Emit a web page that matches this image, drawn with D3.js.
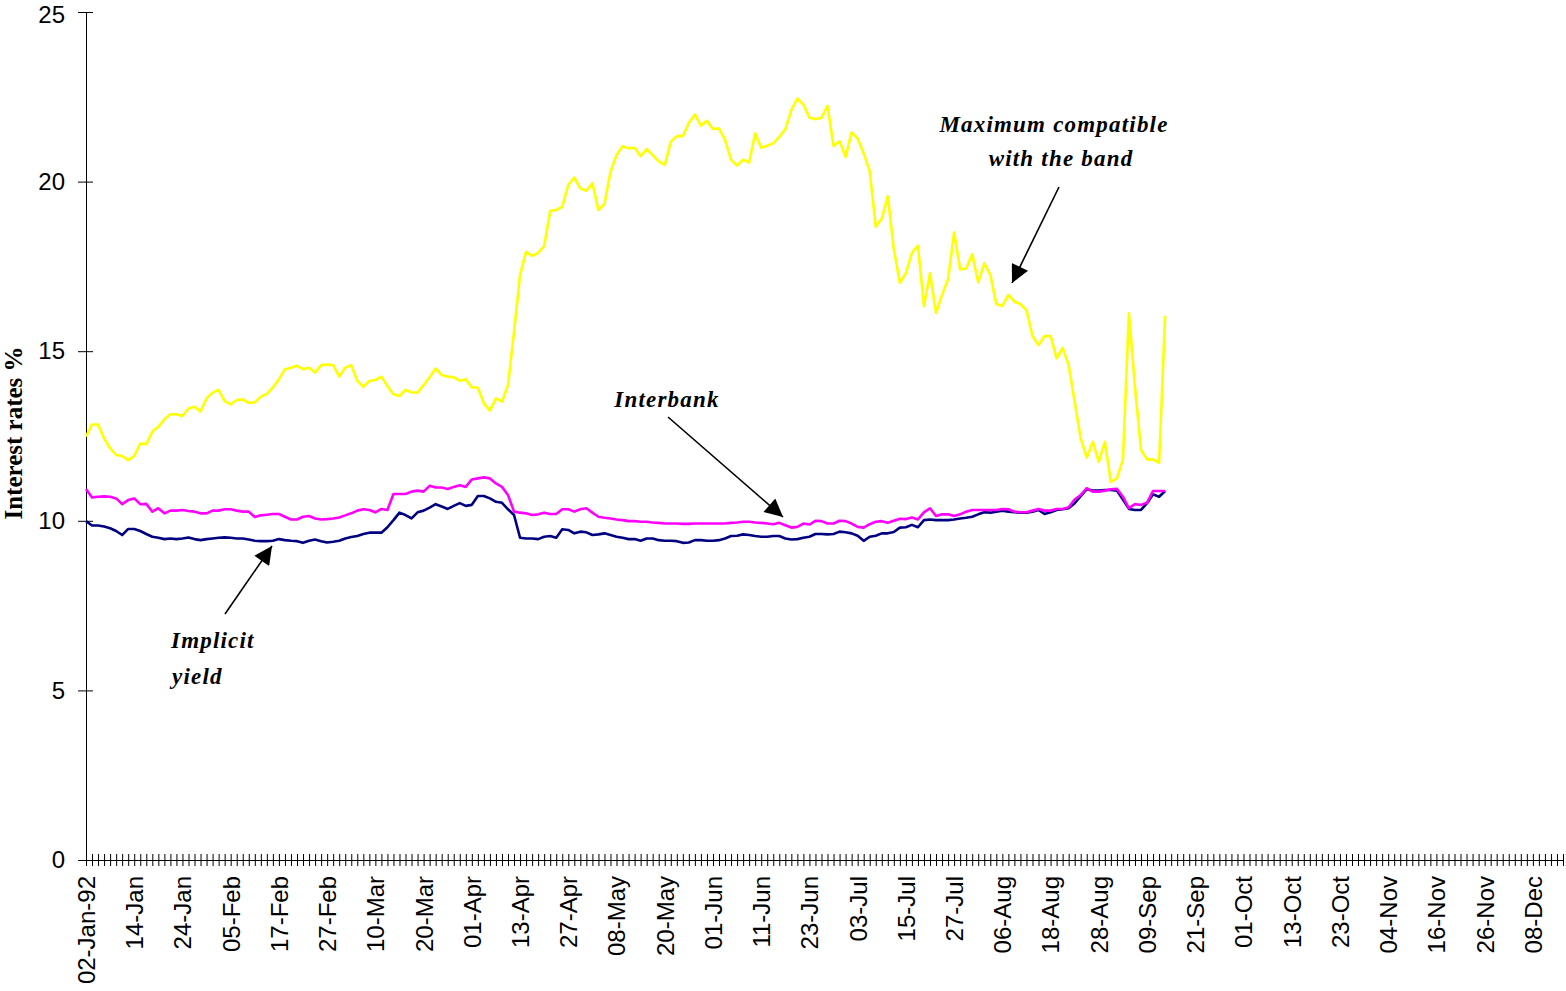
<!DOCTYPE html>
<html>
<head>
<meta charset="utf-8">
<script src="https://cdn.jsdelivr.net/npm/d3@7"></script>
<style>
  html, body { margin: 0; padding: 0; background: #fff; }
  svg text { fill: #000; }
</style>
</head>
<body>
<svg id="chart" width="1566" height="991"></svg>
<script>
// trading days on the category axis, one label every 8 days
var dayCount = 246;
var labelStep = 8;
var tickLabels = ['02-Jan-92', '14-Jan', '24-Jan', '05-Feb', '17-Feb', '27-Feb', '10-Mar', '20-Mar',
    '01-Apr', '13-Apr', '27-Apr', '08-May', '20-May', '01-Jun', '11-Jun', '23-Jun', '03-Jul', '15-Jul',
    '27-Jul', '06-Aug', '18-Aug', '28-Aug', '09-Sep', '21-Sep', '01-Oct', '13-Oct', '23-Oct', '04-Nov',
    '16-Nov', '26-Nov', '08-Dec'];
var yTicks = [0, 5, 10, 15, 20, 25];

// Maximum compatible with the band
var maxBand = [12.48, 12.84, 12.84, 12.43, 12.14, 11.94, 11.91, 11.79, 11.91, 12.28,
    12.26, 12.63, 12.77, 12.99, 13.14, 13.14, 13.09, 13.31, 13.36, 13.22,
    13.61, 13.78, 13.86, 13.53, 13.43, 13.56, 13.58, 13.48, 13.49, 13.66,
    13.74, 13.93, 14.17, 14.47, 14.51, 14.57, 14.47, 14.51, 14.37, 14.59,
    14.61, 14.59, 14.25, 14.51, 14.59, 14.13, 13.95, 14.12, 14.15, 14.25,
    13.97, 13.73, 13.68, 13.86, 13.79, 13.78, 14.00, 14.23, 14.49, 14.30,
    14.25, 14.23, 14.13, 14.17, 13.93, 13.93, 13.46, 13.25, 13.61, 13.51,
    14.00, 15.57, 17.25, 17.93, 17.81, 17.90, 18.10, 19.14, 19.16, 19.26,
    19.90, 20.12, 19.80, 19.73, 19.95, 19.16, 19.34, 20.29, 20.78, 21.04,
    20.98, 21.00, 20.75, 20.96, 20.78, 20.60, 20.49, 21.17, 21.34, 21.34,
    21.73, 21.98, 21.65, 21.79, 21.55, 21.57, 21.23, 20.65, 20.47, 20.65,
    20.56, 21.42, 21.00, 21.06, 21.13, 21.32, 21.54, 22.11, 22.45, 22.27,
    21.89, 21.84, 21.88, 22.23, 21.05, 21.19, 20.73, 21.45, 21.27, 20.83,
    20.31, 18.67, 18.91, 19.57, 18.00, 17.02, 17.30, 17.90, 18.11, 16.33,
    17.30, 16.13, 16.66, 17.13, 18.50, 17.41, 17.44, 17.86, 17.03, 17.59,
    17.26, 16.39, 16.33, 16.66, 16.46, 16.39, 16.21, 15.45, 15.18, 15.45,
    15.45, 14.79, 15.10, 14.59, 13.51, 12.43, 11.86, 12.33, 11.74, 12.33,
    11.15, 11.25, 11.81, 16.12, 13.95, 12.09, 11.81, 11.81, 11.71, 16.04];

// Interbank
var interbank = [10.94, 10.69, 10.71, 10.72, 10.71, 10.66, 10.49, 10.61, 10.66, 10.49,
    10.50, 10.27, 10.37, 10.22, 10.30, 10.30, 10.32, 10.29, 10.27, 10.22,
    10.22, 10.30, 10.30, 10.34, 10.34, 10.30, 10.27, 10.27, 10.11, 10.16,
    10.18, 10.20, 10.20, 10.12, 10.04, 10.04, 10.12, 10.14, 10.07, 10.04,
    10.05, 10.07, 10.10, 10.16, 10.22, 10.30, 10.34, 10.32, 10.25, 10.35,
    10.32, 10.79, 10.79, 10.79, 10.86, 10.89, 10.86, 11.03, 10.98, 10.98,
    10.94, 11.00, 11.05, 11.00, 11.22, 11.25, 11.28, 11.25, 11.10, 11.00,
    10.76, 10.27, 10.24, 10.22, 10.17, 10.19, 10.24, 10.20, 10.20, 10.34,
    10.34, 10.27, 10.34, 10.37, 10.24, 10.12, 10.09, 10.07, 10.04, 10.02,
    9.99, 9.99, 9.97, 9.97, 9.95, 9.94, 9.92, 9.92, 9.92, 9.91,
    9.91, 9.92, 9.92, 9.92, 9.92, 9.92, 9.92, 9.94, 9.95, 9.97,
    9.97, 9.95, 9.94, 9.92, 9.90, 9.94, 9.87, 9.80, 9.82, 9.92,
    9.89, 10.00, 9.99, 9.92, 9.92, 10.00, 9.99, 9.92, 9.82, 9.80,
    9.90, 9.97, 9.99, 9.94, 10.00, 10.06, 10.05, 10.10, 10.04, 10.25,
    10.37, 10.14, 10.19, 10.19, 10.14, 10.19, 10.27, 10.32, 10.32, 10.32,
    10.32, 10.32, 10.35, 10.34, 10.27, 10.25, 10.25, 10.30, 10.35, 10.30,
    10.30, 10.35, 10.35, 10.40, 10.63, 10.76, 10.96, 10.86, 10.86, 10.89,
    10.93, 10.94, 10.71, 10.37, 10.49, 10.47, 10.53, 10.88, 10.88, 10.88];

// Implicit yield
var implicitYield = [9.99, 9.86, 9.86, 9.83, 9.78, 9.70, 9.58, 9.76, 9.76, 9.70,
    9.61, 9.53, 9.50, 9.46, 9.48, 9.46, 9.48, 9.51, 9.46, 9.43,
    9.46, 9.48, 9.50, 9.51, 9.50, 9.48, 9.48, 9.45, 9.41, 9.40,
    9.40, 9.41, 9.46, 9.43, 9.41, 9.40, 9.35, 9.41, 9.45, 9.40,
    9.36, 9.38, 9.41, 9.48, 9.52, 9.55, 9.61, 9.65, 9.65, 9.65,
    9.81, 10.02, 10.24, 10.17, 10.07, 10.25, 10.30, 10.39, 10.49, 10.42,
    10.35, 10.44, 10.52, 10.44, 10.47, 10.73, 10.73, 10.66, 10.56, 10.53,
    10.34, 10.17, 9.50, 9.48, 9.48, 9.46, 9.53, 9.55, 9.50, 9.75,
    9.73, 9.63, 9.68, 9.66, 9.58, 9.60, 9.63, 9.58, 9.53, 9.50,
    9.46, 9.46, 9.41, 9.48, 9.48, 9.43, 9.41, 9.41, 9.40, 9.35,
    9.36, 9.43, 9.43, 9.41, 9.41, 9.43, 9.48, 9.55, 9.56, 9.60,
    9.58, 9.55, 9.53, 9.53, 9.55, 9.55, 9.48, 9.45, 9.46, 9.50,
    9.53, 9.61, 9.61, 9.60, 9.61, 9.68, 9.66, 9.63, 9.56, 9.41,
    9.53, 9.56, 9.63, 9.63, 9.67, 9.80, 9.81, 9.88, 9.81, 10.02,
    10.04, 10.02, 10.02, 10.02, 10.04, 10.07, 10.09, 10.12, 10.19, 10.25,
    10.24, 10.27, 10.30, 10.27, 10.25, 10.24, 10.24, 10.27, 10.32, 10.20,
    10.25, 10.32, 10.34, 10.37, 10.52, 10.73, 10.93, 10.89, 10.89, 10.91,
    10.91, 10.89, 10.63, 10.35, 10.32, 10.32, 10.52, 10.78, 10.71, 10.88];

var svg = d3.select('#chart');
var x = d3.scaleLinear().domain([0, dayCount - 1]).range([86, 1563]);
var y = d3.scaleLinear().domain([0, 25]).range([860, 12]);

var tickFont = '"Liberation Sans", Arial, sans-serif';
var serifFont = '"Liberation Serif", "Times New Roman", serif';

// y axis, ticks cross the line
var yAxis = svg.append('g').attr('transform', 'translate(86,0)')
    .call(d3.axisLeft(y).tickValues(yTicks).tickSize(8).tickPadding(13).tickSizeOuter(0));
yAxis.selectAll('.tick line').attr('x2', 7).attr('x1', -8);
yAxis.selectAll('text').style('font-family', tickFont).style('font-size', '24px');
// keep the top label inside the picture
yAxis.selectAll('.tick').filter(function (d) { return d == 25; }).select('text').attr('dy', '0.42em');

// x axis with one tick per trading day
var dayIndex = d3.range(dayCount);
var xAxis = svg.append('g').attr('transform', 'translate(0,860)')
    .call(d3.axisBottom(x).tickValues(dayIndex).tickSize(7).tickSizeOuter(0).tickFormat(function (d) {
        return d % labelStep == 0 ? tickLabels[d / labelStep] : '';
    }));
xAxis.selectAll('.tick line').attr('y1', -6).attr('y2', 6);
xAxis.selectAll('text')
    .style('font-family', tickFont).style('font-size', '24px')
    .attr('text-anchor', 'end')
    .attr('transform', 'rotate(-90)')
    .attr('x', -16).attr('y', 0).attr('dy', '0.35em');
svg.selectAll('.domain').attr('stroke', '#000');

// series lines
var line = d3.line()
    .x(function (d, i) { return x(i); })
    .y(function (d) { return y(d); });
var series = [
    {values: implicitYield, color: '#000080'},
    {values: interbank, color: '#FF00FF'},
    {values: maxBand, color: '#FFFF00'}
];
svg.append('g').selectAll('path.series')
    .data(series)
    .enter()
    .append('path')
    .attr('class', 'series')
    .attr('d', function (d) { return line(d.values); })
    .attr('fill', 'none')
    .attr('stroke', function (d) { return d.color; })
    .attr('stroke-width', 2.6)
    .attr('stroke-linejoin', 'round');

// y title
svg.append('text')
    .attr('transform', 'translate(22,433) rotate(-90)')
    .attr('text-anchor', 'middle')
    .style('font-family', serifFont).style('font-size', '25px').style('font-weight', 'bold')
    .text('Interest rates %');

// annotations with arrows
svg.append('defs').append('marker')
    .attr('id', 'head')
    .attr('viewBox', '0 0 10 10')
    .attr('refX', 10).attr('refY', 5)
    .attr('markerUnits', 'userSpaceOnUse')
    .attr('markerWidth', 22).attr('markerHeight', 18)
    .attr('orient', 'auto')
    .append('path').attr('d', 'M0,0L10,5L0,10Z').attr('fill', '#000');

var notes = [
    {lines: ['Maximum compatible', 'with the band'], xs: [1054, 1061], ys: [132, 166], anchor: 'middle', arrow: [1059, 187, 1012, 283]},
    {lines: ['Interbank'], xs: [667], ys: [407], anchor: 'middle', arrow: [668, 417, 783, 517]},
    {lines: ['Implicit', 'yield'], xs: [171, 172], ys: [648, 684], anchor: 'start', arrow: [225, 614, 272, 546]}
];
notes.forEach(function (n) {
    n.lines.forEach(function (t, i) {
        svg.append('text')
            .attr('x', n.xs[i]).attr('y', n.ys[i])
            .attr('text-anchor', n.anchor)
            .style('font-family', serifFont).style('font-size', '23px')
            .style('font-weight', 'bold').style('font-style', 'italic')
            .style('letter-spacing', '1.2px')
            .text(t);
    });
    svg.append('line')
        .attr('x1', n.arrow[0]).attr('y1', n.arrow[1])
        .attr('x2', n.arrow[2]).attr('y2', n.arrow[3])
        .attr('stroke', '#000').attr('stroke-width', 1.6)
        .attr('marker-end', 'url(#head)');
});
</script>
</body>
</html>
